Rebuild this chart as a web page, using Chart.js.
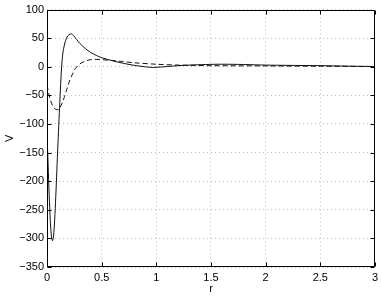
<!DOCTYPE html>
<html><head><meta charset="utf-8">
<script src="https://cdn.jsdelivr.net/npm/chart.js@4"></script>
<style>html,body{margin:0;padding:0;background:#fff}#wrap{width:382px;height:297px}</style>
</head><body><div id="wrap"><canvas id="c" width="382" height="297"></canvas></div>
<script>
const solidR = [0, 0.01, 0.02, 0.03, 0.04, 0.05, 0.06, 0.07, 0.08, 0.09, 0.1, 0.11, 0.12, 0.13, 0.14, 0.15, 0.17, 0.19, 0.21, 0.225, 0.24, 0.27, 0.3, 0.35, 0.4, 0.45, 0.5, 0.6, 0.7, 0.8, 0.9, 0.95, 1.0, 1.1, 1.2, 1.3, 1.45, 1.6, 1.8, 2.0, 2.2, 2.5, 2.8, 3.0];
const solidV = [-118, -170, -225, -268, -295, -304, -296, -268, -228, -182, -135, -92, -50, -12, 15, 30, 46, 54, 57, 57.5, 55, 48, 41, 32, 25, 20, 16, 10.5, 6, 2.5, 0, -1, -1, 0.5, 2, 3, 4, 4.5, 4, 3, 2.5, 2, 1, 0.5];
const dashR = [0, 0.02, 0.04, 0.06, 0.08, 0.1, 0.11, 0.12, 0.14, 0.16, 0.18, 0.2, 0.23, 0.26, 0.3, 0.35, 0.4, 0.45, 0.5, 0.6, 0.7, 0.8, 1.0, 1.2, 1.5, 2.0, 2.5, 3.0];
const dashV = [-32, -50, -63, -71, -74.5, -75, -74, -71, -63, -52, -40, -28, -14, -3, 5, 10, 12.5, 13, 12.5, 11, 9, 7, 4.5, 3, 2, 1.5, 1, 0.5];
const xTicks = [0, 0.5, 1, 1.5, 2, 2.5, 3];
const yTicks = [-350, -300, -250, -200, -150, -100, -50, 0, 50, 100];

const toPts = (xs, ys) => xs.map((x, i) => ({x: x, y: ys[i]}));
const fmt = v => String(v).replace('-', '\u2212');
const font = {family: '"Liberation Sans", Arial, sans-serif', size: 11};

const boxPlugin = {
  id: 'box',
  afterDraw(chart) {
    const ctx = chart.ctx, a = chart.chartArea;
    const xs = chart.scales.x, ys = chart.scales.y;
    ctx.save();
    ctx.strokeStyle = '#000';
    ctx.lineWidth = 1;
    ctx.beginPath();
    const L = Math.round(a.left) + 0.5, R = Math.round(a.right) - 0.5;
    const T = Math.round(a.top) + 0.5, B = Math.round(a.bottom) - 0.5;
    ctx.rect(L, T, R - L, B - T);
    const tl = 4;
    xTicks.forEach(v => {
      const p = Math.round(xs.getPixelForValue(v)) + 0.5;
      ctx.moveTo(p, B); ctx.lineTo(p, B - tl);
      ctx.moveTo(p, T); ctx.lineTo(p, T + tl);
    });
    yTicks.forEach(v => {
      const p = Math.round(ys.getPixelForValue(v)) + 0.5;
      ctx.moveTo(L, p); ctx.lineTo(L + tl, p);
      ctx.moveTo(R, p); ctx.lineTo(R - tl, p);
    });
    ctx.stroke();
    ctx.restore();
  }
};

new Chart(document.getElementById('c'), {
  type: 'line',
  data: {
    datasets: [
      {data: toPts(solidR, solidV), borderColor: '#111', borderWidth: 1, pointRadius: 0, tension: 0.3, fill: false},
      {data: toPts(dashR, dashV), borderColor: '#111', borderWidth: 1, borderDash: [5, 3], pointRadius: 0, tension: 0.3, fill: false}
    ]
  },
  options: {
    responsive: false,
    animation: false,
    devicePixelRatio: 1,
    layout: {padding: {left: 0, top: 9, right: 6, bottom: 0}},
    plugins: {legend: {display: false}, tooltip: {enabled: false}},
    scales: {
      x: {
        type: 'linear', min: 0, max: 3,
        afterBuildTicks: s => { s.ticks = xTicks.map(v => ({value: v})); },
        afterFit: s => { s.height = 30; },
        ticks: {font: font, color: '#000', padding: 4, maxRotation: 0, callback: v => fmt(v)},
        grid: {color: '#bdbdbd', lineWidth: 1, drawTicks: false},
        border: {display: false, dash: [1, 3]},
        title: {display: true, text: 'r', font: font, color: '#000', padding: {top: 0, bottom: 1}}
      },
      y: {
        type: 'linear', min: -350, max: 100,
        afterBuildTicks: s => { s.ticks = yTicks.map(v => ({value: v})); },
        afterFit: s => { s.width = 47; },
        ticks: {font: font, color: '#000', padding: 3, callback: v => fmt(v)},
        grid: {color: '#bdbdbd', lineWidth: 1, drawTicks: false},
        border: {display: false, dash: [1, 3]},
        title: {display: true, text: 'V', font: font, color: '#000', padding: {top: 3, bottom: 0}}
      }
    }
  },
  plugins: [boxPlugin]
});
</script>
</body></html>
